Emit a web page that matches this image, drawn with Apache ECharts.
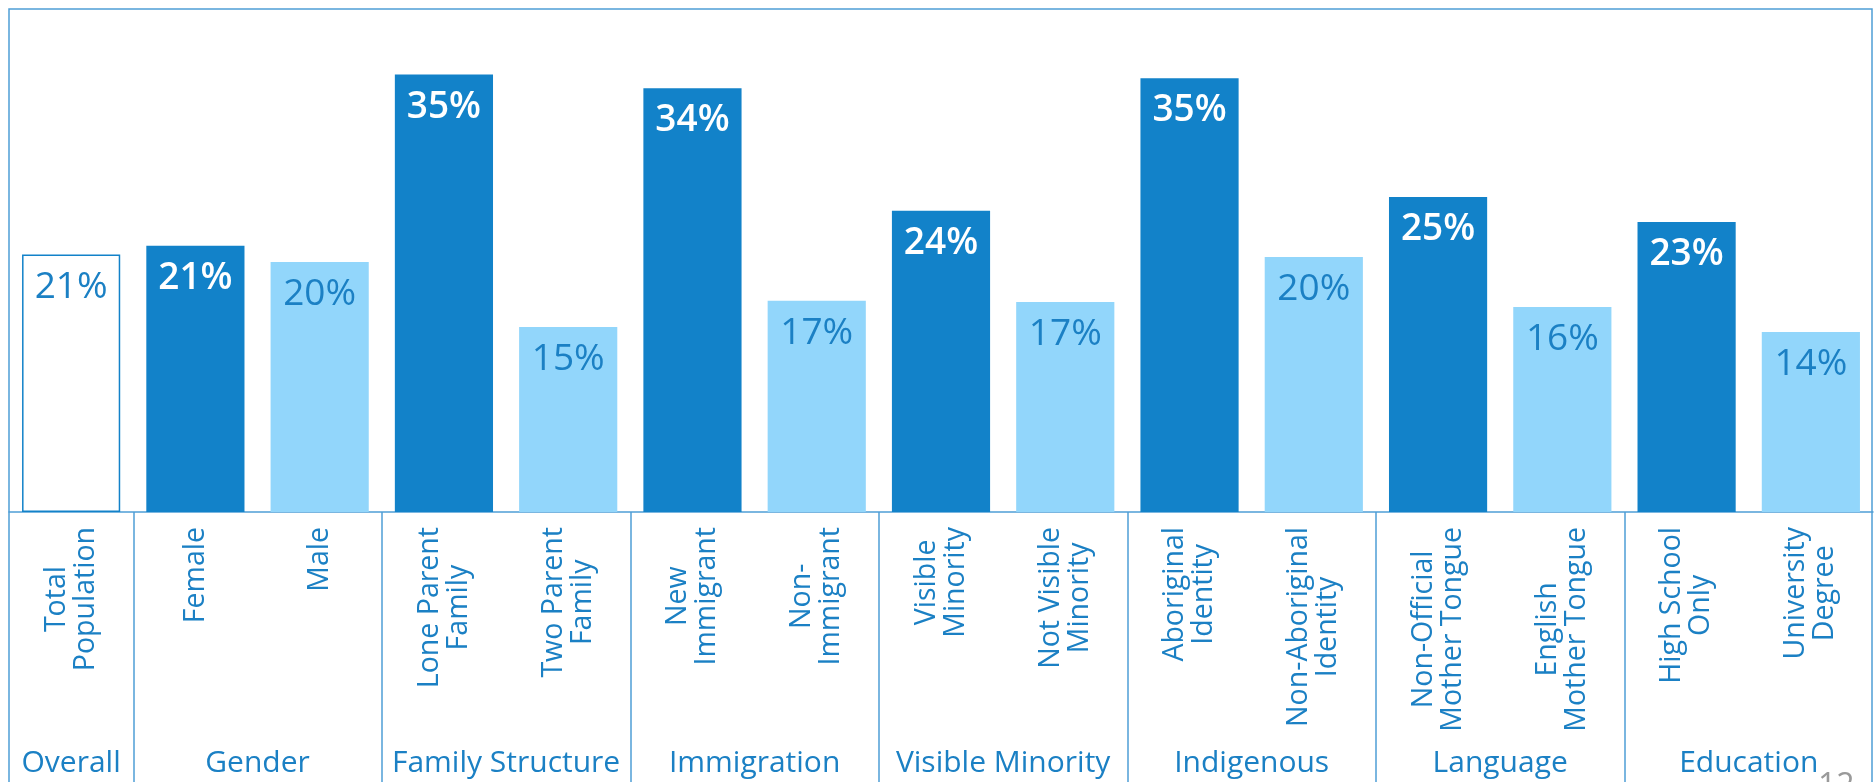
<!DOCTYPE html>
<html>
<head>
<meta charset="utf-8">
<style>
  html, body { margin: 0; padding: 0; background: #fff; }
  #chart { width: 1875px; height: 782px; }
</style>
<script src="https://cdn.jsdelivr.net/npm/echarts@6/dist/echarts.min.js"></script>
</head>
<body>
<div id="chart"></div>
<script>
const categories = [
  'Total\nPopulation', 'Female', 'Male',
  'Lone Parent\nFamily', 'Two Parent\nFamily',
  'New\nImmigrant', 'Non-\nImmigrant',
  'Visible\nMinority', 'Not Visible\nMinority',
  'Aboriginal\nIdentity', 'Non-Aboriginal\nIdentity',
  'Non-Official\nMother Tongue', 'English\nMother Tongue',
  'High School\nOnly', 'University\nDegree'
]
// bar heights, labels are shown rounded
const values = [20.6, 21.3, 20.0, 35.0, 14.8, 33.9, 16.9, 24.1, 16.8, 34.7, 20.4, 25.2, 16.4, 23.2, 14.4]
const shades = ['total', 'dark', 'light', 'dark', 'light', 'dark', 'light', 'dark', 'light', 'dark', 'light', 'dark', 'light', 'dark', 'light']
const groups = ['Overall', 'Gender', 'Family Structure', 'Immigration', 'Visible Minority', 'Indigenous', 'Language', 'Education']
const groupSizes = [1, 2, 2, 2, 2, 2, 2, 2]

const blue = '#1282c9'
const lightBlue = '#92d6fb'
const textBlue = '#1b80c4'
const lineBlue = '#4f9fd6'
const font = '"Open Sans", sans-serif'

// group boundaries and centres, in category units
const bounds = [0]
groupSizes.forEach(n => bounds.push(bounds[bounds.length - 1] + n))
const centers = groups.map((g, i) => (bounds[i] + bounds[i + 1]) / 2)

const barData = values.map((v, i) => {
  const kind = shades[i]
  return {
    value: v,
    itemStyle: kind === 'total'
      ? { color: '#fff', borderColor: blue, borderWidth: 1.5 }
      : { color: kind === 'dark' ? blue : lightBlue },
    label: {
      color: kind === 'dark' ? '#fff' : textBlue,
      fontWeight: kind === 'dark' ? 600 : 'normal'
    }
  }
})

const chart = echarts.init(document.getElementById('chart'))
chart.setOption({
  animation: false,
  grid: { left: 9, right: 2, top: 12, bottom: 270, containLabel: false },
  xAxis: [
    {
      type: 'category',
      data: categories,
      axisLine: { lineStyle: { color: lineBlue, width: 1.5 } },
      axisTick: { show: false },
      axisLabel: {
        rotate: 90,
        margin: 15,
        interval: 0,
        formatter: v => v.split('\n').map(s => '{c|' + s + '}').join('\n'),
        rich: {
          c: { align: 'center', fontSize: 28.5, lineHeight: 29, color: textBlue, fontFamily: font }
        }
      }
    },
    {
      type: 'value',
      position: 'bottom',
      min: 0,
      max: 15,
      axisLine: { show: false },
      splitLine: { show: false },
      axisTick: {
        show: true,
        customValues: bounds.slice(1, -1),
        length: 280,
        lineStyle: { color: lineBlue, width: 1.5 }
      },
      axisLabel: {
        customValues: centers,
        margin: 236,
        fontSize: 30,
        color: textBlue,
        fontFamily: font,
        formatter: v => groups[centers.indexOf(v)] || ''
      }
    }
  ],
  yAxis: {
    type: 'value',
    min: 0,
    max: 40,
    show: false,
    splitLine: { show: false }
  },
  series: [
    {
      type: 'bar',
      data: barData,
      barCategoryGap: '21%',
      label: {
        show: true,
        position: 'insideTop',
        distance: 14,
        fontSize: 37,
        fontFamily: font,
        formatter: p => Math.round(p.value) + '%'
      }
    }
  ],
  graphic: [
    {
      type: 'rect',
      shape: { x: 9, y: 9, width: 1863, height: 800 },
      style: { fill: null, stroke: lineBlue, lineWidth: 1.5 },
      silent: true
    },
    {
      type: 'text',
      x: 1818,
      y: 771,
      style: { text: '12', fontSize: 32, fill: '#9a9a9a', fontFamily: font }
    }
  ]
})
</script>
</body>
</html>
